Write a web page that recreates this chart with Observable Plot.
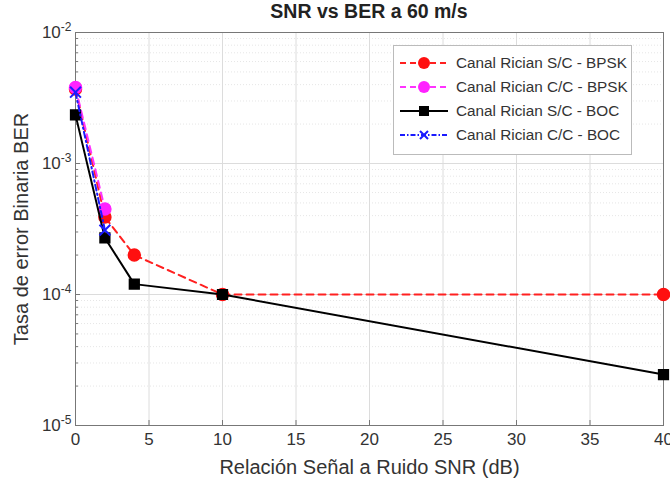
<!DOCTYPE html>
<html><head><meta charset="utf-8">
<script src="https://cdn.jsdelivr.net/npm/d3@7"></script>
<script src="https://cdn.jsdelivr.net/npm/@observablehq/plot@0.6"></script>
<style>
body{margin:0;background:#fff;font-family:"Liberation Sans",Arial,sans-serif;}
#wrap{position:relative;width:670px;height:482px;}
#title{position:absolute;left:75px;width:588px;top:0px;text-align:center;font-weight:bold;font-size:19.5px;color:#222;}
#chart{position:absolute;left:0;top:24px;}
#chart svg{overflow:visible;}
#legend{position:absolute;left:393px;top:45px;width:239px;height:110px;border:1px solid #bbb;background:#fff;box-sizing:border-box;font-size:15.3px;color:#333;padding-top:5px;}
.row{display:flex;align-items:center;height:24px;}
.row svg{margin-left:5px;margin-right:7px;}
</style></head><body>
<div id="wrap">
<div id="title">SNR vs BER a 60 m/s</div>
<div id="chart"></div>
<div id="legend"></div>
</div>
<script>
const snr = [0, 2, 4, 10, 40];
const berScBpsk = [3.7e-3, 3.9e-4, 2.0e-4, 1.0e-4, 1.0e-4];
const snrCc = [0, 2];
const berCcBpsk = [3.8e-3, 4.5e-4];
const berScBoc = [2.35e-3, 2.7e-4, 1.2e-4, 1.0e-4, 2.45e-5];
const berCcBoc = [3.5e-3, 3.1e-4];
const xTicks = [0, 5, 10, 15, 20, 25, 30, 35, 40];
const yTicks = [1e-5, 1e-4, 1e-3, 1e-2];
const seriesNames = ["Canal Rician S/C - BPSK", "Canal Rician C/C - BPSK", "Canal Rician S/C - BOC", "Canal Rician C/C - BOC"];

const yMinor = [];
for (const d of [1e-5, 1e-4, 1e-3]) for (let k = 2; k <= 9; k++) yMinor.push(d * k);

const fmtY = v => "10^" + Math.round(Math.log10(v));

const mk = (xs, ys) => xs.map((x, i) => ({x, y: ys[i]}));
const dRed = mk(snr, berScBpsk), dMag = mk(snrCc, berCcBpsk), dBlk = mk(snr, berScBoc), dBlu = mk(snrCc, berCcBoc);

const plot = Plot.plot({
  width: 670, height: 458,
  marginLeft: 75, marginRight: 7, marginTop: 8, marginBottom: 57,
  style: {fontFamily: "Liberation Sans, Arial, sans-serif", fontSize: "17px", color: "#333", background: "#fff", overflow: "visible"},
  x: {domain: [0, 40]},
  y: {type: "log", domain: [1e-5, 1e-2]},
  marks: [
    Plot.gridY(yMinor, {stroke: "#e6e6e6", strokeOpacity: 1, strokeDasharray: "1,2"}),
    Plot.gridY(yTicks, {stroke: "#dcdcdc", strokeOpacity: 1}),
    Plot.gridX(xTicks, {stroke: "#dcdcdc", strokeOpacity: 1}),
    Plot.frame({stroke: "#777"}),
    Plot.axisX(xTicks, {tickSize: -5, tickPadding: 12, stroke: "#777", fontSize: 17, label: null}),
    Plot.axisY(yMinor, {tickSize: -3, stroke: "#777", tickFormat: () => "", label: null}),
    Plot.axisY(yTicks, {tickSize: -5, tickPadding: 9, stroke: "#777", fontSize: 17, tickFormat: fmtY, label: null}),
    Plot.axisX({ticks: [], label: "Relación Señal a Ruido SNR (dB)", labelAnchor: "center", labelOffset: 48, labelArrow: "none", fontSize: 20}),
    Plot.axisY({ticks: [], label: "Tasa de error Binaria BER", labelAnchor: "center", labelOffset: 62, labelArrow: "none", fontSize: 20}),
    Plot.line(dRed, {x: "x", y: "y", stroke: "#ff2020", strokeWidth: 2, strokeDasharray: "7,5"}),
    Plot.dot(dRed, {x: "x", y: "y", r: 6, fill: "#ff1010", stroke: "#ff1010"}),
    Plot.line(dMag, {x: "x", y: "y", stroke: "#ff33ff", strokeWidth: 2, strokeDasharray: "7,5"}),
    Plot.dot(dMag, {x: "x", y: "y", r: 6, fill: "#ff22ff", stroke: "#ff22ff"}),
    Plot.line(dBlk, {x: "x", y: "y", stroke: "#000", strokeWidth: 2}),
    Plot.dot(dBlk, {x: "x", y: "y", symbol: "square", r: 5.5, fill: "#000", stroke: "#000"}),
    Plot.line(dBlu, {x: "x", y: "y", stroke: "#1a1aff", strokeWidth: 2, strokeDasharray: "6,3,1.5,3"}),
    Plot.dot(dBlu, {x: "x", y: "y", symbol: "times", r: 5, stroke: "#1a1aff", strokeWidth: 2})
  ]
});
document.getElementById("chart").appendChild(plot);

// turn "10^-3" tick labels into base + superscript
plot.querySelectorAll("text").forEach(t => {
  const s = t.textContent;
  const m = /^10\^(-?\d+)$/.exec(s);
  if (m) {
    t.textContent = "";
    const ns = "http://www.w3.org/2000/svg";
    const a = document.createElementNS(ns, "tspan"); a.textContent = "10";
    const b = document.createElementNS(ns, "tspan"); b.textContent = m[1];
    b.setAttribute("dy", "-7"); b.setAttribute("font-size", "12");
    t.appendChild(a); t.appendChild(b);
  }
});

const legendStyles = [
  {stroke: "#ff2020", dash: "6,4", marker: "circle", fill: "#ff1010"},
  {stroke: "#ff33ff", dash: "6,4", marker: "circle", fill: "#ff22ff"},
  {stroke: "#000", dash: "", marker: "square", fill: "#000"},
  {stroke: "#1a1aff", dash: "5,2,1.5,2", marker: "times", fill: "none"}
];
const leg = document.getElementById("legend");
seriesNames.forEach((name, i) => {
  const s = legendStyles[i];
  let m = "";
  if (s.marker === "circle") m = `<circle cx="25" cy="9" r="6" fill="${s.fill}"/>`;
  else if (s.marker === "square") m = `<rect x="20" y="4" width="10" height="10" fill="#000"/>`;
  else m = `<path d="M21 5L29 13M29 5L21 13" stroke="${s.stroke}" stroke-width="2"/>`;
  const row = document.createElement("div");
  row.className = "row";
  row.innerHTML = `<svg width="50" height="18"><line x1="1" y1="9" x2="49" y2="9" stroke="${s.stroke}" stroke-width="2" stroke-dasharray="${s.dash}"/>${m}</svg><span>${name}</span>`;
  leg.appendChild(row);
});
</script>
</body></html>
